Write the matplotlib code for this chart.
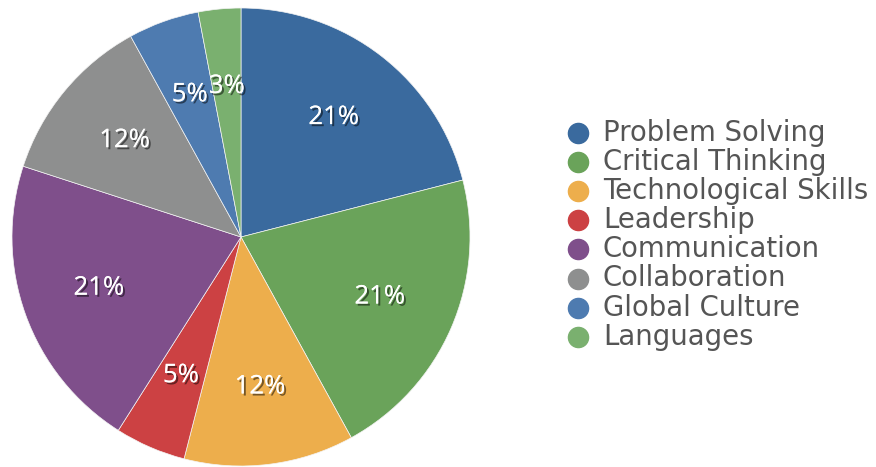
import matplotlib
matplotlib.use("Agg")
import matplotlib.pyplot as plt
import matplotlib.patheffects as pe

categories = ["Problem Solving", "Critical Thinking", "Technological Skills", "Leadership",
              "Communication", "Collaboration", "Global Culture", "Languages"]
values = [21, 21, 12, 5, 21, 12, 5, 3]
colors = ["#3A6A9E", "#6AA35A", "#EDAE4C", "#CC4143", "#7F4F8B", "#8E8F8F", "#4E7BB0", "#7AB06F"]

W, H = 876, 467
fig = plt.figure(figsize=(W / 100, H / 100), dpi=100)
r = 229
cx, cy = 241, H - 237
ax = fig.add_axes([(cx - r) / W, (cy - r) / H, 2 * r / W, 2 * r / H])
wedges, texts, autotexts = ax.pie(values, colors=colors, startangle=90, counterclock=False,
                                  autopct="%d%%", pctdistance=0.66, radius=1.0,
                                  wedgeprops=dict(linewidth=0.5, edgecolor="#f4f4f4"))
ax.set_xlim(-1, 1)
ax.set_ylim(-1, 1)
ax.set_aspect("auto")
for t in autotexts:
    t.set_color("white")
    t.set_fontsize(18.5)
    t.set_family("Open Sans")
    t.set_path_effects([pe.withSimplePatchShadow(offset=(1.5, -1.5), shadow_rgbFace="black", alpha=0.5), pe.Normal()])

# manual legend
lax = fig.add_axes([0, 0, 1, 1])
lax.set_xlim(0, W)
lax.set_ylim(H, 0)
lax.axis("off")
y0, dy = 133, 29.1
for i, (cat, c) in enumerate(zip(categories, colors)):
    y = y0 + i * dy
    lax.plot([578], [y], marker="o", markersize=14.5, color=c, linestyle="")
    lax.text(603, y, cat, va="center", ha="left", fontsize=19.8, color="#555555",
             family="DejaVu Sans")

fig.savefig("out.png", dpi=100)
